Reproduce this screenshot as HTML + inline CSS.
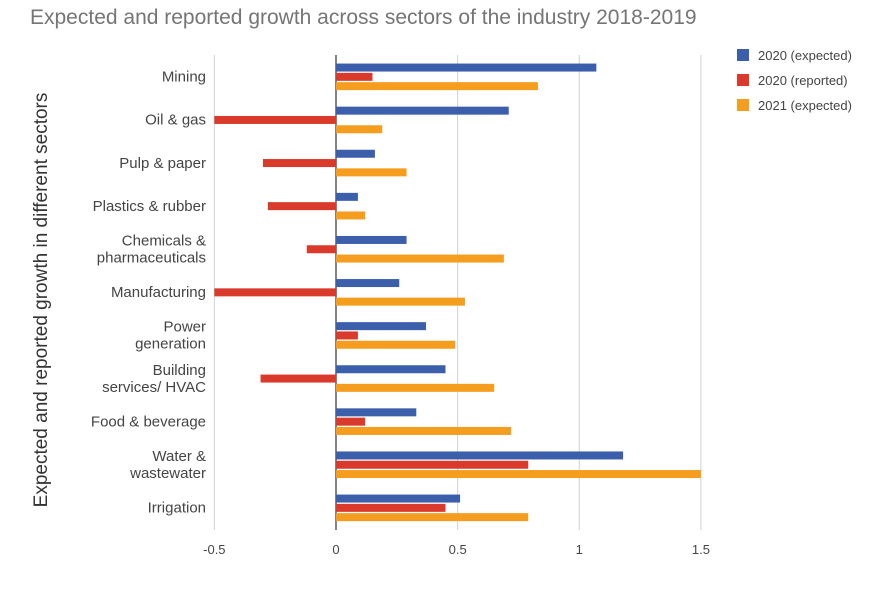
<!DOCTYPE html>
<html><head><meta charset="utf-8"><style>
body{margin:0;background:#fff;font-family:"Liberation Sans",sans-serif;}
</style></head><body>
<svg id="chart" width="888" height="588" xmlns="http://www.w3.org/2000/svg" font-family="Liberation Sans, sans-serif">
<text x="30" y="24" font-size="21" fill="#757575">Expected and reported growth across sectors of the industry 2018-2019</text>
<text transform="translate(47,300) rotate(-90)" text-anchor="middle" font-size="19" fill="#333">Expected and reported growth in different sectors</text>
<g id="grid"></g><g id="bars"></g><g id="labels"></g><g id="legend"></g>
</svg>
<script>
const categories=[["Mining"],["Oil & gas"],["Pulp & paper"],["Plastics & rubber"],["Chemicals &","pharmaceuticals"],["Manufacturing"],["Power","generation"],["Building","services/ HVAC"],["Food & beverage"],["Water &","wastewater"],["Irrigation"]];
const expected2020=[1.07,0.71,0.16,0.09,0.29,0.26,0.37,0.45,0.33,1.18,0.51];
const reported2020=[0.15,-0.5,-0.30,-0.28,-0.12,-0.5,0.09,-0.31,0.12,0.79,0.45];
const expected2021=[0.83,0.19,0.29,0.12,0.69,0.53,0.49,0.65,0.72,1.5,0.79];
const ticks=[-0.5,0,0.5,1,1.5];
const tickLabels=["-0.5","0","0.5","1","1.5"];
const seriesNames=["2020 (expected)","2020 (reported)","2021 (expected)"];
const colors=["#3c5fac","#d93a2b","#f59d1f"];
const NS="http://www.w3.org/2000/svg";
const x=v=>336+(v)*243.3;
const top0=55,band=43.1;
const yc=i=>top0+band*(i+0.5);
function mk(t,a,p){const e=document.createElementNS(NS,t);for(const k in a)e.setAttribute(k,a[k]);p.appendChild(e);return e;}
const grid=document.getElementById('grid'),bars=document.getElementById('bars'),labels=document.getElementById('labels'),legend=document.getElementById('legend');
ticks.forEach((t,i)=>{
 if(t!==0){const l=mk('line',{x1:x(t),x2:x(t),y1:top0,y2:530,stroke:'#d0d0d0','stroke-width':1},grid);
 
 }
 const tx=mk('text',{x:x(t),y:554,'text-anchor':'middle','font-size':13,fill:'#444'},labels);
 tx.textContent=tickLabels[i];
 
 
});
const series=[expected2020,reported2020,expected2021];
categories.forEach((c,i)=>{
 series.forEach((s,j)=>{
  const v=s[i];const x0=Math.min(x(0),x(v));
  const r=mk('rect',{x:x0,y:yc(i)-13+j*9.3,width:Math.abs(x(v)-x(0)),height:8,fill:colors[j]},bars);
  
  
 });
 const t=mk('text',{x:206,'text-anchor':'end','font-size':15,fill:'#444'},labels);
 
 
 const n=c.length;
 c.forEach((line,k)=>{const ts=mk('tspan',{x:206,y:yc(i)+5+(k-(n-1)/2)*17},t);ts.textContent=line;});
});
const z=mk('line',{x1:x(0),x2:x(0),y1:top0,y2:530,stroke:'#333','stroke-width':1.2},grid);


seriesNames.forEach((nm,j)=>{
 const g=mk('g',{},legend);
 
 
 mk('rect',{x:737,y:49+j*25,width:12,height:12,fill:colors[j]},g);
 const t=mk('text',{x:758,y:60+j*25,'font-size':13,fill:'#444'},g);t.textContent=nm;
});
</script>
</body></html>
